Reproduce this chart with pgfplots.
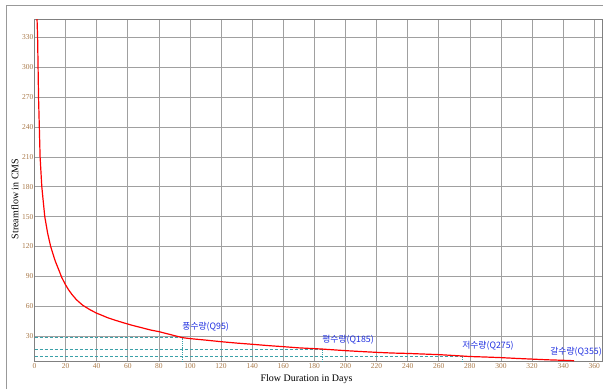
\documentclass[border=0pt]{standalone}
\usepackage{fontspec}
\setmainfont{Liberation Serif}
\newfontfamily\kr{Noto Sans CJK KR}
\usepackage{pgfplots}
\pgfplotsset{compat=1.18}
\definecolor{tickbrown}{HTML}{A87848}
\definecolor{refteal}{HTML}{3AA0A8}
\definecolor{gridgray}{HTML}{A0A0A0}
\definecolor{lblblue}{HTML}{2030E0}
\begin{document}
\begin{tikzpicture}[x=1pt,y=1pt]
\useasboundingbox (0,0) rectangle (603,389);
\draw[gray!80, line width=0.8pt] (6.5,0) -- (6.5,383.7) -- (603,383.7);
\begin{axis}[
  at={(34.5pt,27.3pt)}, anchor=south west,
  scale only axis, width=567.5pt, height=342.4pt,
  xmin=0, xmax=365, ymin=4.3, ymax=348.2,
  xtick={0,20,...,360}, ytick={30,60,...,330},
  grid=major, major grid style={gridgray, line width=0.6pt},
  axis line style={gray, line width=0.6pt},
  major tick length=0pt,
  tick label style={font=\fontsize{7.5}{8}\selectfont, text=tickbrown},
  /pgf/number format/assume math mode=true,
  yticklabel style={inner sep=1pt},
  xticklabel style={inner sep=2pt},
  clip=true,
]
\addplot[refteal, densely dashed, line width=0.6pt] coordinates {(0,28.5) (95,28.5)};
\addplot[refteal, densely dotted, line width=0.8pt] coordinates {(95,4.3) (95,28.5)};
\addplot[refteal, densely dashed, line width=0.6pt] coordinates {(0,17) (185,17)};
\addplot[refteal, densely dotted, line width=0.8pt] coordinates {(185,4.3) (185,17)};
\addplot[refteal, densely dashed, line width=0.6pt] coordinates {(0,10) (275,10)};
\addplot[refteal, densely dotted, line width=0.8pt] coordinates {(275,4.3) (275,10)};
\addplot[red, line width=1.2pt, line join=round] coordinates {
(0,420) (1,380) (1.5,355) (2,330) (2.3,300) (2.6,270) (3.1,240) (3.6,210)
(4.7,180) (6.6,150) (8.5,133) (10.4,120) (13.2,106) (15.5,97) (17.5,89)
(19.8,82) (21.7,77) (24,72) (27,66.5) (31,61) (35.7,56.5) (40,53) (43.2,51)
(47,48.5) (51.8,46) (57,43.5) (62.5,41) (70,38) (75,36) (80,34.5) (85,32.5)
(90,30.5) (95,28.5) (100,27.5) (110,26) (120,24.4) (130,23) (140,21.8)
(150,20.5) (160,19.4) (170,18.2) (185,17) (200,15.4) (210,14.5) (220,13.7)
(230,13) (240,12.6) (250,12) (260,11.4) (270,10.5) (275,10) (280,9.5)
(290,9) (300,8.4) (310,7.6) (320,6.9) (330,6.2) (340,5.7) (347,5.3)};
\node[anchor=west, inner sep=0pt, text=lblblue, font=\kr\fontsize{8.8}{10}\selectfont] at (axis cs:95,39) {풍수량(Q95)};
\node[anchor=west, inner sep=0pt, text=lblblue, font=\kr\fontsize{8.8}{10}\selectfont] at (axis cs:185,26.6) {평수량(Q185)};
\node[anchor=west, inner sep=0pt, text=lblblue, font=\kr\fontsize{8.8}{10}\selectfont] at (axis cs:275,20.4) {저수량(Q275)};
\node[anchor=east, inner sep=0pt, text=lblblue, font=\kr\fontsize{8.8}{10}\selectfont] at (axis cs:365,14.4) {갈수량(Q355)};
\end{axis}
\node[rotate=90, font=\fontsize{10}{12}\selectfont] at (15,190) {Streamflow in CMS};
\node[font=\fontsize{10}{12}\selectfont] at (306.5,10) {Flow Duration in Days};
\end{tikzpicture}
\end{document}
